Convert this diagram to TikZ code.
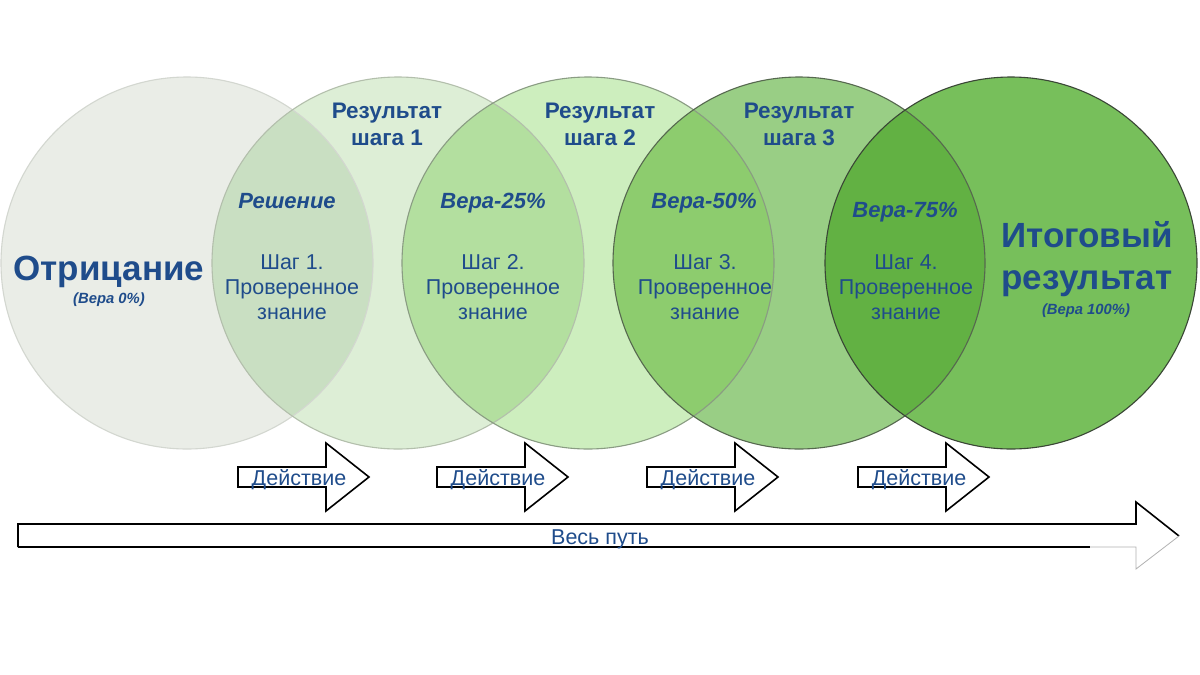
\documentclass[tikz,border=0pt]{standalone}
\usepackage{fontspec}
\setmainfont{Liberation Sans}
\definecolor{txtblue}{HTML}{1F4C8B}
\definecolor{fillA}{HTML}{EAEDE7}
\definecolor{fillB}{HTML}{DDEED6}
\definecolor{fillC}{HTML}{CDEEBE}
\definecolor{fillD}{HTML}{99CE85}
\definecolor{fillE}{HTML}{77BF5B}
\definecolor{lensA}{HTML}{C9DFC2}
\definecolor{lensB}{HTML}{B3DF9F}
\definecolor{lensC}{HTML}{8DCC6E}
\definecolor{lensD}{HTML}{62B143}
\definecolor{edgeA}{HTML}{D3D7D0}
\definecolor{edgeB}{HTML}{B3BFAC}
\definecolor{edgeC}{HTML}{8A9C83}
\definecolor{edgeD}{HTML}{56684F}
\definecolor{edgeE}{HTML}{3A4636}
\tikzset{
  lbl/.style={text=txtblue, inner sep=0pt, anchor=base},
  bigtitle/.style={lbl, font=\fontsize{35}{38}\selectfont\bfseries},
  hdr/.style={lbl, font=\fontsize{22.5}{25}\selectfont\bfseries},
  vera/.style={lbl, font=\fontsize{22}{24}\selectfont\bfseries\itshape},
  small/.style={lbl, font=\fontsize{14.8}{16}\selectfont\bfseries\itshape},
  steptxt/.style={lbl, font=\fontsize{21.5}{24}\selectfont},
  acttxt/.style={lbl, font=\fontsize{21.5}{24}\selectfont},
  arrowshape/.style={draw=black, line width=1.6pt, fill=white, line join=miter},
  ring/.style={line width=1.1pt},
}
\begin{document}
\begin{tikzpicture}[x=1pt,y=-1pt]
\useasboundingbox[fill=white] (0,0) rectangle (1200,675);
% circle centres
\coordinate (cA) at (187,263);
\coordinate (cB) at (398,263);
\coordinate (cC) at (588,263);
\coordinate (cD) at (799,263);
\coordinate (cE) at (1011,263);
\def\R{186pt}
% fills
\fill[fillA] (cA) circle[radius=\R];
\fill[fillB] (cB) circle[radius=\R];
\fill[fillC] (cC) circle[radius=\R];
\fill[fillD] (cD) circle[radius=\R];
\fill[fillE] (cE) circle[radius=\R];
% lenses
\begin{scope}\clip (cA) circle[radius=\R]; \fill[lensA] (cB) circle[radius=\R];\end{scope}
\begin{scope}\clip (cB) circle[radius=\R]; \fill[lensB] (cC) circle[radius=\R];\end{scope}
\begin{scope}\clip (cC) circle[radius=\R]; \fill[lensC] (cD) circle[radius=\R];\end{scope}
\begin{scope}\clip (cD) circle[radius=\R]; \fill[lensD] (cE) circle[radius=\R];\end{scope}
% outlines
\draw[ring, edgeA] (cA) circle[radius=\R];
\draw[ring, edgeB] (cB) circle[radius=\R];
\draw[ring, edgeC] (cC) circle[radius=\R];
\draw[ring, edgeD] (cD) circle[radius=\R];
\draw[ring, edgeE] (cE) circle[radius=\R];

% texts in circles
\node[bigtitle] (neg) at (109,280) {Отрицание};
\node[small] (neg0) at (109,303) {(Вера 0\%)};

\node[hdr] (r1a) at (387,118) {Результат};
\node[hdr] (r1b) at (387,145) {шага 1};
\node[hdr] (r2a) at (600,118) {Результат};
\node[hdr] (r2b) at (600,145) {шага 2};
\node[hdr] (r3a) at (799,118) {Результат};
\node[hdr] (r3b) at (799,145) {шага 3};

\node[vera] (v1) at (287,208) {Решение};
\node[vera] (v2) at (493,208) {Вера-25\%};
\node[vera] (v3) at (704,208) {Вера-50\%};
\node[vera] (v4) at (905,217) {Вера-75\%};

\foreach \n/\x in {1/292,2/493,3/705,4/906}{
  \node[steptxt] (s\n a) at (\x,269) {Шаг \n.};
  \node[steptxt] (s\n b) at (\x,294) {Проверенное};
  \node[steptxt] (s\n c) at (\x,319) {знание};
}

\node[bigtitle] (fin1) at (1087,247) {Итоговый};
\node[bigtitle] (fin2) at (1087,289) {результат};
\node[small] (fin3) at (1086,314) {(Вера 100\%)};

% action arrows
\foreach \L/\t/\i in {238/299/1,437/498/2,647/708/3,858/919/4}{
  \draw[arrowshape] (\L,467) -- (\L+88,467) -- (\L+88,443) -- (\L+131,477)
     -- (\L+88,511) -- (\L+88,487) -- (\L,487) -- cycle;
  \node[acttxt] (act\i) at (\t,485) {Действие};
}

% whole path arrow
\draw[arrowshape] (18,547) -- (18,524) -- (1136,524) -- (1136,502) -- (1179,536);
\draw[black, line width=1.6pt] (18,547) -- (1090,547);
\draw[gray!60, line width=0.8pt] (1090,547) -- (1136,547) -- (1136,569) -- (1179,536);
\node[acttxt] (path) at (600,544) {Весь путь};
\end{tikzpicture}
\end{document}
